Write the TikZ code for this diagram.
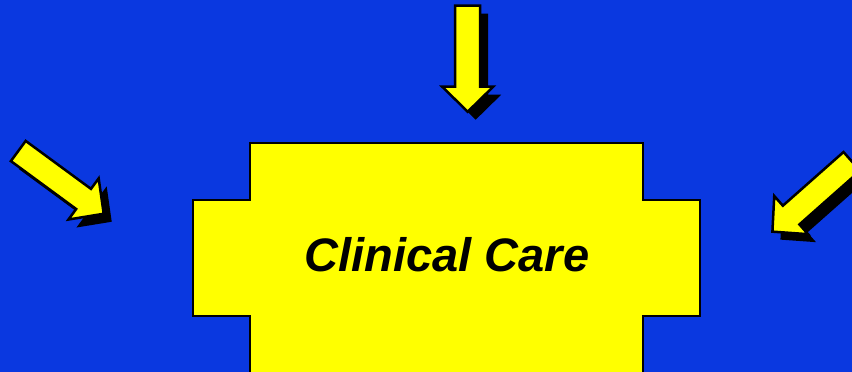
\documentclass[tikz,border=0pt]{standalone}
\usepackage{fontspec}
\setmainfont{Liberation Sans}
\definecolor{bgblue}{RGB}{10,56,224}
\definecolor{ayellow}{RGB}{255,255,0}
\newcommand\arrowshape{(0,-12.5) -- (81,-12.5) -- (81,-25.5) -- (106,0) -- (81,25.5) -- (81,12.5) -- (0,12.5) -- cycle}
\begin{document}
\begin{tikzpicture}[x=1pt,y=-1pt,
  outl/.style={draw=black, line width=2.5pt, line join=miter, fill=ayellow},
  shadowfill/.style={fill=black, draw=none},
  titlefont/.style={font=\bfseries\itshape\fontsize{47}{52}\selectfont, text=black}]
\useasboundingbox (0,0) rectangle (852,372);
\clip (0,0) rectangle (852,372);
\fill[bgblue] (0,0) rectangle (852,372);
% cross-shaped box
\draw[outl] (250,143) -- (643,143) -- (643,200) -- (700,200) -- (700,316) -- (643,316) -- (643,380) -- (250,380) -- (250,316) -- (193,316) -- (193,200) -- (250,200) -- cycle;
\node[titlefont, anchor=base] (title) at (447,271) {Clinical Care};
% top arrow
\begin{scope}[shift={(475.7,13.7)}, rotate=-90] \fill[shadowfill] \arrowshape; \end{scope}
\begin{scope}[shift={(467.7,5.7)}, rotate=-90] \draw[outl] \arrowshape; \end{scope}
% left arrow
\begin{scope}[shift={(26.3,159)}, rotate=-36.3] \fill[shadowfill] \arrowshape; \end{scope}
\begin{scope}[shift={(18.3,151)}, rotate=-36.3] \draw[outl] \arrowshape; \end{scope}
% right arrow
\begin{scope}[shift={(859.8,169.4)}, rotate=221.5] \fill[shadowfill] \arrowshape; \end{scope}
\begin{scope}[shift={(851.8,161.4)}, rotate=221.5] \draw[outl] \arrowshape; \end{scope}
\end{tikzpicture}
\end{document}
